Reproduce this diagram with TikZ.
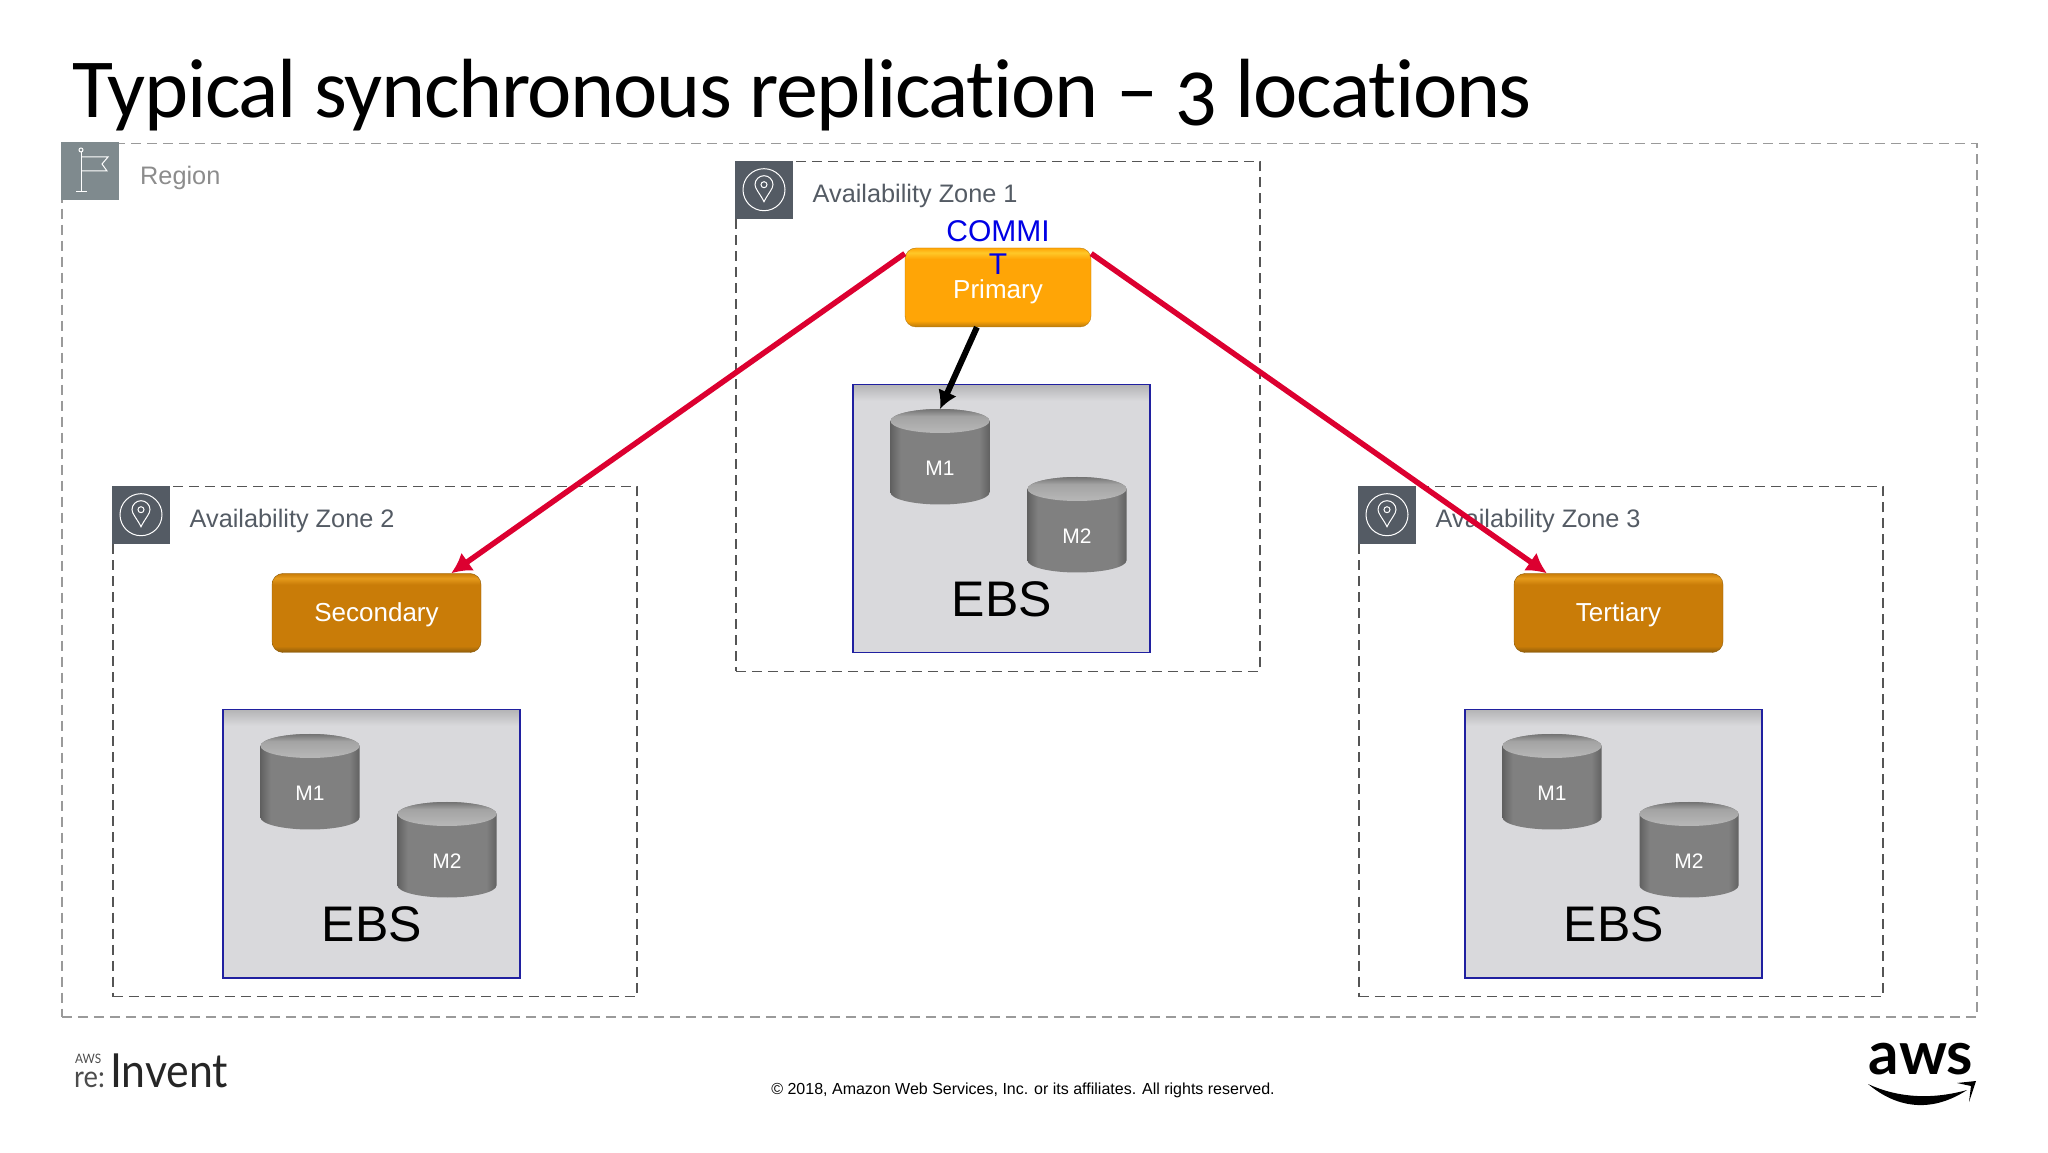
\documentclass[tikz,border=0pt]{standalone}
\usepackage{fontspec}
\usetikzlibrary{arrows.meta}
\setmainfont{Liberation Sans}
\newfontfamily\titlefont[Numbers=OldStyle,Ligatures=NoCommon,LetterSpace=-1.6]{Carlito}
\newfontfamily\logofont[FakeStretch=0.91]{Lato}
\newfontfamily\awsfont{Lato}
\definecolor{regionline}{HTML}{9A9A9A}
\definecolor{zoneline}{HTML}{555555}
\definecolor{regionicon}{HTML}{7F8A8E}
\definecolor{zoneicon}{HTML}{545B64}
\definecolor{replred}{HTML}{DC0030}
\definecolor{ebsfill}{HTML}{D9D9DC}
\definecolor{ebstop}{HTML}{B4B4B6}
\definecolor{ebsline}{HTML}{2020A0}
\definecolor{priedge}{HTML}{B97A0C}
\definecolor{pribase}{HTML}{FFA506}
\definecolor{pritop}{HTML}{FFC828}
\definecolor{secedge}{HTML}{8E5C0A}
\definecolor{secbase}{HTML}{C97C08}
\definecolor{sectop}{HTML}{E59A1C}
\pgfdeclareverticalshading{btnprimary}{100bp}{color(0bp)=(priedge); color(25bp)=(priedge); color(29bp)=(pribase); color(68bp)=(pribase); color(72bp)=(pritop); color(75bp)=(pribase); color(100bp)=(pribase)}
\pgfdeclareverticalshading{btnsecondary}{100bp}{color(0bp)=(secedge); color(25bp)=(secedge); color(29bp)=(secbase); color(68bp)=(secbase); color(72bp)=(sectop); color(75bp)=(secbase); color(100bp)=(secbase)}
\pgfdeclareverticalshading{panelfill}{100bp}{color(0bp)=(ebsfill); color(72bp)=(ebsfill); color(75bp)=(ebstop); color(100bp)=(ebstop)}
\pgfdeclarehorizontalshading{drumbody}{100bp}{color(0bp)=(black!62); color(25bp)=(black!62); color(30bp)=(black!50); color(70bp)=(black!50); color(75bp)=(black!62); color(100bp)=(black!62)}
\pgfdeclareverticalshading{drumtop}{100bp}{color(0bp)=(black!28); color(25bp)=(black!28); color(60bp)=(black!36); color(75bp)=(black!55); color(100bp)=(black!55)}
\tikzset{
  regionbox/.style={draw=regionline,line width=1.8pt,dash pattern=on 10pt off 6pt},
  zonebox/.style={draw=zoneline,line width=1.6pt,dash pattern=on 10pt off 6pt},
  iconbox/.style={minimum size=58pt,inner sep=0pt},
  lbl/.style={inner sep=0pt,font=\fontsize{25.3}{30}\selectfont},
  btn/.style={rounded corners=11pt,minimum height=79pt,inner sep=0pt,text=white,
    font=\fontsize{26}{30}\selectfont},
  ebspanel/.style={draw=ebsline,shading=panelfill,line width=1.5pt,minimum width=297pt,minimum height=268pt,inner sep=0pt},
  repl/.style={replred,line width=5.5pt,-{Latex[length=20pt,width=22pt]}},
  drum/.pic={
    \path[shading=drumbody] (-49.5,35.5) -- (-49.5,-36)
      arc[start angle=180,end angle=360,x radius=49.5,y radius=12] -- (49.5,35.5)
      arc[start angle=0,end angle=180,x radius=49.5,y radius=12] -- cycle;
    \path[shading=drumtop] (0,35.5) ellipse[x radius=49.5,y radius=12];
    \coordinate (-top) at (0,47.5);
    \node[text=white,inner sep=0pt,font=\fontsize{21}{24}\selectfont] (-lbl) at (0,-12) {#1};
  },
  pinicon/.pic={
    \node[iconbox,fill=zoneicon] (-box) {};
    \draw[white,line width=1pt] (0,0) circle[radius=21];
    \draw[white,line width=1pt] (0,-12) .. controls (-4,-4) and (-9,1) .. (-9,5)
      arc[start angle=180,end angle=0,radius=9] .. controls (9,1) and (4,-4) .. (0,-12) -- cycle;
    \draw[white,line width=1pt] (0,5) circle[radius=3];
  },
}
\begin{document}
\begin{tikzpicture}[x=1pt,y=1pt]
  \useasboundingbox (0,0) rectangle (2048,1152);
  % title
  \node[anchor=base west,inner sep=0pt,font=\titlefont\fontsize{84}{90}\selectfont] (title) at (72,1034)
    {Typical synchronous replication – 3 locations};
  % region
  \node[regionbox,minimum width=1915pt,minimum height=873pt,anchor=north west] (region) at (61,1009.3) {};
  \node[iconbox,fill=regionicon,anchor=north west] (flagbox) at (61,1010) {};
  \draw[white,line width=1pt] (81,1000) -- (81,960) (76,960) -- (87,960);
  \draw[white,line width=1pt] (81,995) -- (108,995) -- (102,988) -- (107,981) -- (81,981);
  \draw[white,line width=1pt,fill=regionicon] (81,1002) circle[radius=2];
  \node[lbl,anchor=base west,text=black!45] (regionlbl) at (140,967) {Region};
  % zones
  \foreach \nm/\x/\y/\t in {a/735/991.3/1,b/112/666.3/2,c/1358/666.3/3}{
    \node[zonebox,minimum width=524pt,minimum height=510pt,anchor=north west] (zone\nm) at (\x,\y) {};
    \pic (icon\nm) at (\x+29,\y-29) {pinicon};
    \node[lbl,anchor=base west,text=zoneicon] (zonelbl\nm) at (\x+77.5,\y-42) {Availability Zone \t};
  }
  % ebs volumes
  \foreach \nm/\x/\y in {a/852/768,b/222/443,c/1464/443}{
    \node[ebspanel,anchor=north west] (ebs\nm) at (\x,\y) {};
    \pic (mone\nm) at (\x+88,\y-72.5) {drum=M1};
    \pic (mtwo\nm) at (\x+225,\y-140.5) {drum=M2};
    \node[inner sep=0pt,font=\fontsize{50}{54}\selectfont] (ebslbl\nm) at (\x+150,\y-215) {EBS};
  }
  % instances
  \node[btn,draw=priedge,shading=btnprimary,minimum width=186pt] (primary) at (998,864.5) {};
  \node[text=white,inner sep=0pt,font=\fontsize{26}{30}\selectfont] (primarylbl) at (998,860.5) {Primary};
  \node[btn,draw=secedge,shading=btnsecondary,minimum width=209pt] (secondary) at (376.5,539) {\raisebox{-9pt}[0pt][0pt]{Secondary}};
  \node[btn,draw=secedge,shading=btnsecondary,minimum width=209pt] (tertiary) at (1618.5,539) {\raisebox{-9pt}[0pt][0pt]{Tertiary}};
  \node[align=center,inner sep=0pt,text=blue!90!black,font=\fontsize{30}{33}\selectfont] (commit) at (998,904) {COMMI\\T};
  % connectors
  \draw[repl] (primary.160) -- (secondary.28);
  \draw[repl] (primary.20) -- (tertiary.151);
  \draw[black,line width=6pt,-{Latex[length=18pt,width=20pt]}] (primary.242) -- (monea-top);
  % footer
  \node[inner sep=0pt,font=\fontsize{16}{20}\selectfont] (copyright) at (1023,62)
    {© 2018, Amazon Web Services, Inc. or its affiliates. All rights reserved.};
  \node[anchor=base west,inner sep=0pt,text=black!70,font=\logofont\fontsize{13}{14}\selectfont] (awssmall) at (75,89) {AWS};
  \node[anchor=base west,inner sep=0pt,text=black!70,font=\logofont\fontsize{30}{32}\selectfont] (re) at (74,65) {re:};
  \node[anchor=base west,inner sep=0pt,text=black!85,font=\logofont\fontsize{47}{50}\selectfont] (invent) at (110,65) {Invent};
  \node[anchor=base,inner sep=0pt,font=\awsfont\bfseries\fontsize{60}{64}\selectfont] (aws) at (1921,78) {aws};
  \fill (1868,68) .. controls (1900,41) and (1935,41) .. (1967,62) .. controls (1935,53) and (1900,53) .. (1868,68) -- cycle;
  \fill (1957,69) -- (1976,71) -- (1969,50) -- (1971,66) -- cycle;
\end{tikzpicture}
\end{document}
